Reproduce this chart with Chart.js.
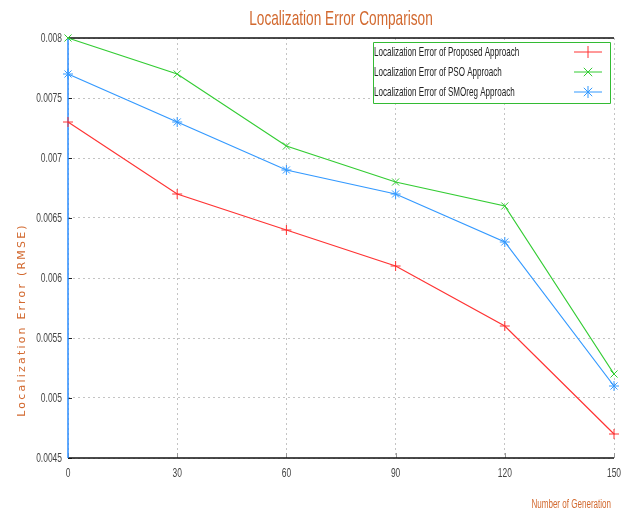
<!DOCTYPE html>
<html>
<head>
<meta charset="utf-8">
<script src="https://cdn.jsdelivr.net/npm/chart.js@4/dist/chart.umd.min.js"></script>
<style>
  html, body { margin:0; padding:0; background:#fff; }
  #wrap { width:628px; height:513px; position:relative; }
</style>
</head>
<body>
<div id="wrap"><canvas id="chartLoc" width="628" height="513"></canvas></div>
<script>
const generations = [0, 30, 60, 90, 120, 150];
const proposedErr = [0.0073, 0.0067, 0.0064, 0.0061, 0.0056, 0.0047];
const psoErr      = [0.0080, 0.0077, 0.0071, 0.0068, 0.0066, 0.0052];
const smoregErr   = [0.0077, 0.0073, 0.0069, 0.0067, 0.0063, 0.0051];
const seriesNames = [
  'Localization Error of Proposed Approach',
  'Localization Error of PSO Approach',
  'Localization Error of SMOreg Approach'
];

const SANS = "'Liberation Sans', Arial, sans-serif";
const ORANGE = '#d2692f';

// no narrow font installed, so squeeze regular sans horizontally
function narrow(ctx, text, x, y, size, sx, align, color) {
  ctx.save();
  ctx.translate(x, y);
  ctx.scale(sx, 1);
  ctx.font = size + 'px ' + SANS;
  ctx.fillStyle = color;
  ctx.textAlign = align;
  ctx.textBaseline = 'middle';
  ctx.fillText(text, 0, 0);
  ctx.restore();
}

// axes frame + tick marks, drawn before the lines
const framePlugin = {
  id: 'frame',
  beforeDatasetsDraw(chart) {
    const { ctx, chartArea: a, scales } = chart;
    ctx.save();
    ctx.lineWidth = 1;
    ctx.strokeStyle = '#222';
    ctx.beginPath();
    scales.y.ticks.forEach(t => {
      const py = Math.round(scales.y.getPixelForValue(t.value)) + 0.5;
      ctx.moveTo(a.left, py); ctx.lineTo(a.left + 4, py);
    });
    ctx.stroke();
    ctx.strokeStyle = '#999';
    ctx.beginPath();
    scales.x.ticks.forEach(t => {
      const px = Math.round(scales.x.getPixelForValue(t.value)) + 0.5;
      ctx.moveTo(px, a.bottom); ctx.lineTo(px, a.bottom - 5);
    });
    ctx.stroke();

    ctx.lineWidth = 1.5;
    ctx.strokeStyle = '#111';
    ctx.beginPath();
    ctx.moveTo(a.left, a.top); ctx.lineTo(a.right, a.top);
    ctx.moveTo(a.left, a.bottom); ctx.lineTo(a.right, a.bottom);
    ctx.stroke();
    ctx.strokeStyle = '#2a8cff';
    ctx.beginPath();
    ctx.moveTo(a.left, a.top); ctx.lineTo(a.left, a.bottom);
    ctx.stroke();
    ctx.restore();
  },
  afterDraw(chart) {
    const { ctx, chartArea: a, scales } = chart;
    ctx.save();

    scales.y.ticks.forEach(t => {
      narrow(ctx, String(parseFloat(t.value.toFixed(4))), a.left - 6,
        scales.y.getPixelForValue(t.value), 13, 0.65, 'right', '#444');
    });
    scales.x.ticks.forEach(t => {
      narrow(ctx, String(t.value), scales.x.getPixelForValue(t.value),
        a.bottom + 15, 13, 0.65, 'center', '#444');
    });

    narrow(ctx, 'Localization Error Comparison', (a.left + a.right) / 2, 19, 21, 0.65, 'center', ORANGE);
    narrow(ctx, 'Number of Generation', a.right - 3, 505, 12, 0.67, 'right', ORANGE);

    ctx.save();
    ctx.translate(22, 320);
    ctx.rotate(-Math.PI / 2);
    ctx.font = '11px "DejaVu Sans", sans-serif';
    ctx.fillStyle = ORANGE;
    ctx.textAlign = 'center';
    ctx.textBaseline = 'middle';
    if ('letterSpacing' in ctx) ctx.letterSpacing = '2.2px';
    ctx.fillText('Localization Error (RMSE)', 0, 0);
    ctx.restore();

    // legend
    const bx = 373, by = 42, bw = a.right - 4 - bx, bh = 61;
    ctx.fillStyle = '#fff';
    ctx.fillRect(bx, by, bw, bh);
    ctx.strokeStyle = '#33bb33';
    ctx.lineWidth = 1;
    ctx.beginPath();
    ctx.rect(bx + 0.5, by + 0.5, bw, bh);
    ctx.stroke();
    chart.data.datasets.forEach((ds, i) => {
      const y = by + 10 + i * 20;
      narrow(ctx, ds.label, bx + 1, y, 13, 0.62, 'left', '#222');
      const x0 = bx + bw - 36, x1 = bx + bw - 8;
      ctx.strokeStyle = ds.borderColor;
      ctx.beginPath(); ctx.moveTo(x0, y); ctx.lineTo(x1, y); ctx.stroke();
      const m = (x0 + x1) / 2, r = 6;
      ctx.beginPath();
      if (ds.pointStyle === 'cross' || ds.pointStyle === 'star') {
        ctx.moveTo(m, y - r); ctx.lineTo(m, y + r);
      }
      if (ds.pointStyle === 'crossRot' || ds.pointStyle === 'star') {
        ctx.moveTo(m - r * 0.7, y - r * 0.7); ctx.lineTo(m + r * 0.7, y + r * 0.7);
        ctx.moveTo(m + r * 0.7, y - r * 0.7); ctx.lineTo(m - r * 0.7, y + r * 0.7);
      }
      ctx.stroke();
    });
    ctx.restore();
  }
};

const mk = (label, data, color, style) => ({
  label, data,
  borderColor: color,
  backgroundColor: color,
  pointBorderColor: color,
  pointBackgroundColor: color,
  borderWidth: 1.2,
  pointStyle: style,
  pointRadius: 5,
  pointHoverRadius: 5,
  pointBorderWidth: 1,
  tension: 0,
  fill: false,
  clip: 8
});

new Chart(document.getElementById('chartLoc'), {
  type: 'line',
  data: {
    labels: generations,
    datasets: [
      mk(seriesNames[0], proposedErr, '#ff3333', 'cross'),
      mk(seriesNames[1], psoErr, '#33cc33', 'crossRot'),
      mk(seriesNames[2], smoregErr, '#3399ff', 'star')
    ]
  },
  plugins: [framePlugin],
  options: {
    responsive: false,
    animation: false,
    layout: { padding: { left: 0, right: 14, top: 38, bottom: 0 } },
    plugins: {
      legend: { display: false },
      tooltip: { enabled: false }
    },
    scales: {
      x: {
        type: 'linear',
        min: 0, max: 150,
        afterBuildTicks: s => { s.ticks = generations.map(v => ({ value: v })); },
        grid: { color: '#c4c4c4', drawTicks: false },
        border: { display: false, dash: [2, 3] },
        ticks: { display: false },
        afterFit: s => { s.height = 55; }
      },
      y: {
        min: 0.0045, max: 0.008,
        ticks: { display: false, stepSize: 0.0005 },
        grid: { color: '#c4c4c4', drawTicks: false },
        border: { display: false, dash: [2, 3] },
        afterFit: s => { s.width = 68; }
      }
    }
  }
});
</script>
</body>
</html>
